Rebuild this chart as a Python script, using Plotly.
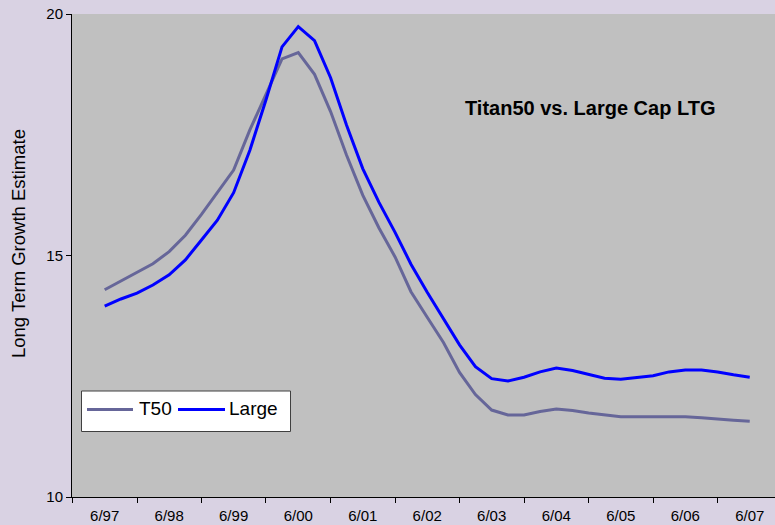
import plotly.graph_objects as go

# Quarterly observations, June 1997 through June 2007
dates = [
    "1997-06-01", "1997-09-01", "1997-12-01", "1998-03-01",
    "1998-06-01", "1998-09-01", "1998-12-01", "1999-03-01",
    "1999-06-01", "1999-09-01", "1999-12-01", "2000-03-01",
    "2000-06-01", "2000-09-01", "2000-12-01", "2001-03-01",
    "2001-06-01", "2001-09-01", "2001-12-01", "2002-03-01",
    "2002-06-01", "2002-09-01", "2002-12-01", "2003-03-01",
    "2003-06-01", "2003-09-01", "2003-12-01", "2004-03-01",
    "2004-06-01", "2004-09-01", "2004-12-01", "2005-03-01",
    "2005-06-01", "2005-09-01", "2005-12-01", "2006-03-01",
    "2006-06-01", "2006-09-01", "2006-12-01", "2007-03-01",
    "2007-06-01",
]

t50 = [
    14.29, 14.47, 14.65, 14.83,
    15.08, 15.42, 15.85, 16.30,
    16.77, 17.60, 18.35, 19.07,
    19.20, 18.75, 17.98, 17.08,
    16.25, 15.57, 14.97, 14.25,
    13.72, 13.20, 12.58, 12.12,
    11.80, 11.70, 11.70, 11.77,
    11.82, 11.79, 11.74, 11.70,
    11.66, 11.66, 11.66, 11.66,
    11.66, 11.64, 11.61, 11.59,
    11.57,
]

large = [
    13.95, 14.10, 14.22, 14.39,
    14.60, 14.91, 15.32, 15.73,
    16.30, 17.18, 18.22, 19.32,
    19.74, 19.45, 18.68, 17.70,
    16.80, 16.10, 15.48, 14.82,
    14.24, 13.70, 13.15, 12.70,
    12.45, 12.40, 12.48, 12.59,
    12.67, 12.62, 12.54, 12.46,
    12.44, 12.48, 12.51, 12.59,
    12.63, 12.63, 12.59, 12.53,
    12.48,
]

series_names = ["T50", "Large"]
series_colors = ["#666699", "#0000FF"]

tick_dates = ["%d-06-01" % y for y in range(1997, 2008)]
tick_labels = ["6/97", "6/98", "6/99", "6/00", "6/01", "6/02",
               "6/03", "6/04", "6/05", "6/06", "6/07"]

FONT = "Liberation Sans, Arial, sans-serif"
W, H = 775, 525
ML, MR, MT, MB = 72, 0, 14, 28
PW, PH = W - ML - MR, H - MT - MB


def px(x):
    """Pixel column -> paper x."""
    return (x - ML) / PW


def py(y):
    """Pixel row -> paper y."""
    return (H - MB - y) / PH


fig = go.Figure()
for name, vals, color in zip(series_names, [t50, large], series_colors):
    fig.add_trace(go.Scatter(
        x=dates, y=vals, name=name, mode="lines",
        line=dict(color=color, width=3),
        showlegend=False,
    ))

# Boxed legend: white frame with a long line sample before each name
shapes = [dict(
    type="rect", xref="paper", yref="paper",
    x0=px(81.5), x1=px(290.5), y0=py(431.5), y1=py(391),
    fillcolor="#FFFFFF", line=dict(color="#404040", width=1),
)]
annotations = []
for (x0, x1, tx), name, color in zip([(87, 133, 137), (178, 225, 227)],
                                     series_names, series_colors):
    shapes.append(dict(
        type="line", xref="paper", yref="paper",
        x0=px(x0), x1=px(x1), y0=py(409.5), y1=py(409.5),
        line=dict(color=color, width=3),
    ))
    annotations.append(dict(
        text=name, xref="paper", yref="paper",
        x=px(tx), y=py(408.5), xanchor="left", yanchor="middle",
        showarrow=False, font=dict(size=19, family=FONT),
    ))

annotations += [
    dict(
        text="<b>Titan50 vs. Large Cap LTG</b>",
        xref="paper", yref="paper",
        x=px(590), y=py(108),
        xanchor="center", yanchor="middle",
        showarrow=False, font=dict(size=20, family=FONT),
    ),
    dict(
        text="Long Term Growth Estimate",
        xref="paper", yref="paper",
        x=px(18), y=py(244),
        xanchor="center", yanchor="middle",
        textangle=-90, showarrow=False,
        font=dict(size=18.5, family=FONT),
    ),
]

fig.update_layout(
    width=W, height=H,
    margin=dict(l=ML, r=MR, t=MT, b=MB),
    paper_bgcolor="#D9D2E3",
    plot_bgcolor="#C0C0C0",
    font=dict(family=FONT, color="#000000"),
    showlegend=False,
    shapes=shapes,
    annotations=annotations,
)

fig.update_xaxes(
    type="date",
    range=["1996-11-28", "2007-10-22"],
    tickmode="array", tickvals=tick_dates, ticktext=tick_labels,
    ticks="outside", ticklen=5, tickcolor="rgba(0,0,0,0)",
    tickfont=dict(size=15, family=FONT),
    minor=dict(
        tickmode="linear", tick0="1996-12-01", dtick="M12",
        ticks="outside", ticklen=5, tickcolor="#000000", tickwidth=1,
        showgrid=False,
    ),
    showline=True, linecolor="#000000", linewidth=1,
    showgrid=False, zeroline=False,
)

fig.update_yaxes(
    range=[10, 20],
    tickmode="array", tickvals=[10, 15, 20],
    ticks="outside", ticklen=5, tickcolor="#000000",
    tickfont=dict(size=15, family=FONT),
    showline=True, linecolor="#000000", linewidth=1,
    showgrid=False, zeroline=False,
)

fig.write_html("out.html")
